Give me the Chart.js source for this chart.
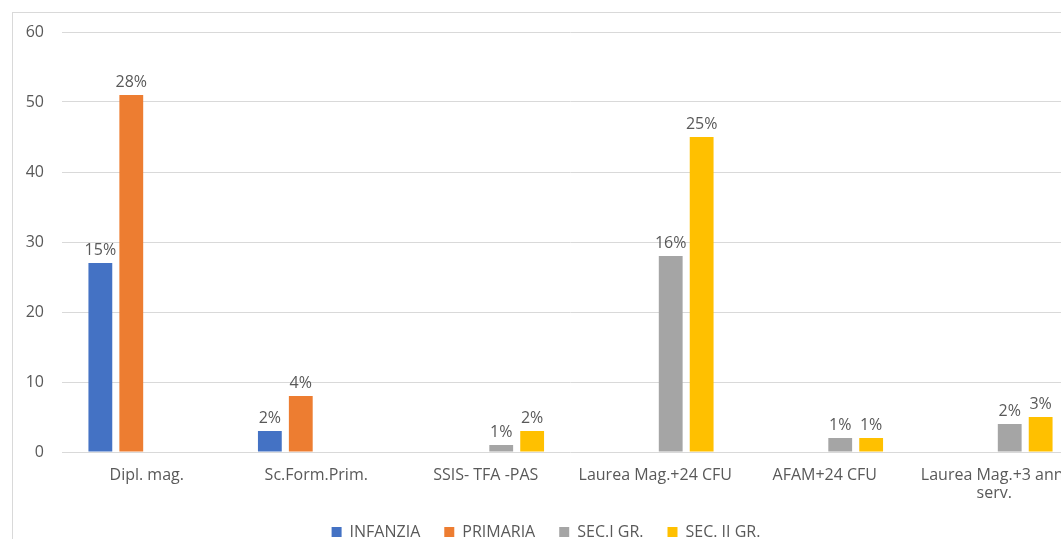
<!DOCTYPE html>
<html>
<head>
<meta charset="utf-8">
<script src="https://cdn.jsdelivr.net/npm/chart.js@4/dist/chart.umd.min.js"></script>
<style>
  html, body { margin: 0; padding: 0; background: #fff; overflow: hidden; }
  #box {
    position: absolute; left: 12px; top: 12px;
    width: 1066px; height: 537px;
    border-left: 1px solid #d9d9d9; border-top: 1px solid #d9d9d9;
  }
</style>
</head>
<body>
<div id="box"><canvas id="chart"></canvas></div>
<script>
const categories = ['Dipl. mag.', 'Sc.Form.Prim.', 'SSIS- TFA -PAS', 'Laurea Mag.+24 CFU', 'AFAM+24 CFU', ['Laurea Mag.+3 anni', 'serv.']];

const seriesNames = ['INFANZIA', 'PRIMARIA', 'SEC.I GR.', 'SEC. II GR.'];

const infanzia = [27, 3, null, null, null, null];
const primaria = [51, 8, null, null, null, null];
const secIGr = [null, null, 1, 28, 2, 4];
const secIIGr = [null, null, 3, 45, 2, 5];

const infanziaPct = ['15%', '2%', null, null, null, null];
const primariaPct = ['28%', '4%', null, null, null, null];
const secIGrPct = [null, null, '1%', '16%', '1%', '2%'];
const secIIGrPct = [null, null, '2%', '25%', '1%', '3%'];

const yTicks = [0, 10, 20, 30, 40, 50, 60];

const colors = ['#4472C4', '#ED7D31', '#A5A5A5', '#FFC000'];
const values = [infanzia, primaria, secIGr, secIIGr];
const pcts = [infanziaPct, primariaPct, secIGrPct, secIIGrPct];

const FONT = "'Open Sans', sans-serif";
const TEXT = '#595959';

// percentage labels above bars
const pctLabels = {
  id: 'pctLabels',
  afterDatasetsDraw(chart) {
    const ctx = chart.ctx;
    ctx.save();
    ctx.font = '16px ' + FONT;
    ctx.fillStyle = TEXT;
    ctx.textAlign = 'center';
    ctx.textBaseline = 'bottom';
    chart.data.datasets.forEach((ds, i) => {
      chart.getDatasetMeta(i).data.forEach((bar, j) => {
        let txt = pcts[i][j];
        if (txt == null || ds.data[j] == null) return;
        ctx.fillText(txt, bar.x, bar.y - 5);
      });
    });
    ctx.restore();
  }
};

let datasets = seriesNames.map((name, i) => ({
  label: name,
  data: values[i],
  backgroundColor: colors[i],
  categoryPercentage: 0.73,
  barPercentage: 0.77
}));

new Chart(document.getElementById('chart'), {
  type: 'bar',
  data: { labels: categories, datasets: datasets },
  options: {
    responsive: true,
    maintainAspectRatio: false,
    animation: false,
    layout: { padding: { top: 19, right: 0, left: 0, bottom: 0 } },
    plugins: {
      tooltip: { enabled: false },
      legend: {
        position: 'bottom',
        labels: {
          boxWidth: 10,
          boxHeight: 10,
          padding: 24,
          color: TEXT,
          font: { family: FONT, size: 16 }
        }
      }
    },
    scales: {
      x: {
        grid: { display: false },
        border: { display: false },
        afterFit(scale) {
          scale.height -= 8;
        },
        ticks: {
          color: TEXT,
          font: { family: FONT, size: 16, lineHeight: 1.125 },
          maxRotation: 0,
          autoSkip: false,
          padding: 6
        }
      },
      y: {
        min: 0,
        max: 60,
        afterBuildTicks(scale) {
          scale.ticks = yTicks.map(v => ({ value: v }));
        },
        afterFit(scale) {
          scale.width = 49;
          scale.paddingTop = 0;
          scale.paddingBottom = 0;
        },
        grid: { color: '#d9d9d9', drawTicks: false },
        border: { display: false },
        ticks: {
          color: TEXT,
          font: { family: FONT, size: 16 },
          padding: 18
        }
      }
    }
  },
  plugins: [pctLabels]
});
</script>
</body>
</html>
